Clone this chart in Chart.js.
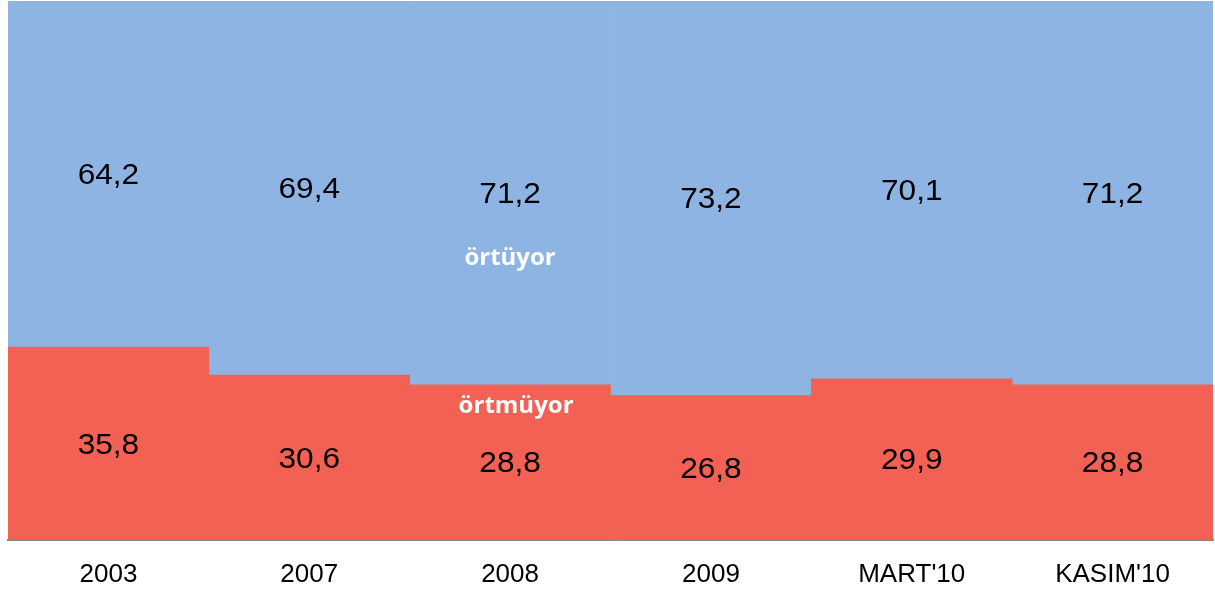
<!DOCTYPE html>
<html>
<head>
<meta charset="utf-8">
<script src="https://cdn.jsdelivr.net/npm/chart.js@4"></script>
<style>
  html, body { margin: 0; padding: 0; background: #ffffff; }
  #wrap { width: 1215px; height: 590px; position: relative; }
</style>
</head>
<body>
<div id="wrap"><canvas id="c" width="1215" height="590"></canvas></div>
<script>
const categories = ["2003", "2007", "2008", "2009", "MART'10", "KASIM'10"];
const ortmuyor = [35.8, 30.6, 28.8, 26.8, 29.9, 28.8];
const ortuyor  = [64.2, 69.4, 71.2, 73.2, 70.1, 71.2];
const seriesNames = ["örtmüyor", "örtüyor"];

const fmt = v => v.toFixed(1).replace('.', ',');

const labelPlugin = {
  id: 'valueLabels',
  afterDatasetsDraw(chart, args, opts) {
    const ctx = chart.ctx;
    chart.data.datasets.forEach((ds, di) => {
      const meta = chart.getDatasetMeta(di);
      meta.data.forEach((bar, i) => {
        const p = bar.getCenterPoint();
        ctx.save();
        ctx.translate(p.x, p.y + 2);
        ctx.scale(1.09, 1);
        ctx.font = '29px "Liberation Sans", Arial, sans-serif';
        ctx.fillStyle = '#000000';
        ctx.textAlign = 'center';
        ctx.textBaseline = 'middle';
        ctx.fillText(fmt(ds.data[i]), 0, 0);
        ctx.restore();
      });
    });
    // series name labels inside the 2008 bar
    const xs = chart.scales.x, ys = chart.scales.y;
    (opts.names || []).forEach(n => {
      ctx.save();
      ctx.font = 'bold 24px "Open Sans", sans-serif';
      ctx.fillStyle = '#ffffff';
      ctx.textAlign = 'center';
      ctx.textBaseline = 'alphabetic';
      ctx.fillText(chart.data.datasets[n.dataset].label,
        xs.getPixelForValue(n.index) + n.dx, ys.getPixelForValue(n.value));
      ctx.restore();
    });
  }
};

new Chart(document.getElementById('c'), {
  type: 'bar',
  data: {
    labels: categories,
    datasets: [
      { label: seriesNames[0], data: ortmuyor, backgroundColor: '#F26153', borderWidth: 0 },
      { label: seriesNames[1], data: ortuyor,  backgroundColor: '#8EB4E3', borderWidth: 0 }
    ]
  },
  options: {
    responsive: false,
    animation: false,
    layout: { padding: { left: 8, right: 2, top: 1, bottom: 0 } },
    datasets: { bar: { barPercentage: 1, categoryPercentage: 1 } },
    plugins: {
      legend: { display: false },
      tooltip: { enabled: false },
      valueLabels: {
        names: [
          { dataset: 1, index: 2, value: 51.0, dx: 0 },
          { dataset: 0, index: 2, value: 23.6, dx: 6 }
        ]
      }
    },
    scales: {
      x: {
        stacked: true,
        grid: { display: false, drawTicks: false },
        border: { display: true, color: '#888888', width: 2 },
        ticks: {
          color: '#000000',
          padding: 19,
          maxRotation: 0,
          font: { family: '"Liberation Sans", Arial, sans-serif', size: 26 }
        },
        afterFit: s => { s.height = 50; }
      },
      y: {
        stacked: true,
        display: false,
        min: 0,
        max: 100
      }
    }
  },
  plugins: [labelPlugin]
});
</script>
</body>
</html>
